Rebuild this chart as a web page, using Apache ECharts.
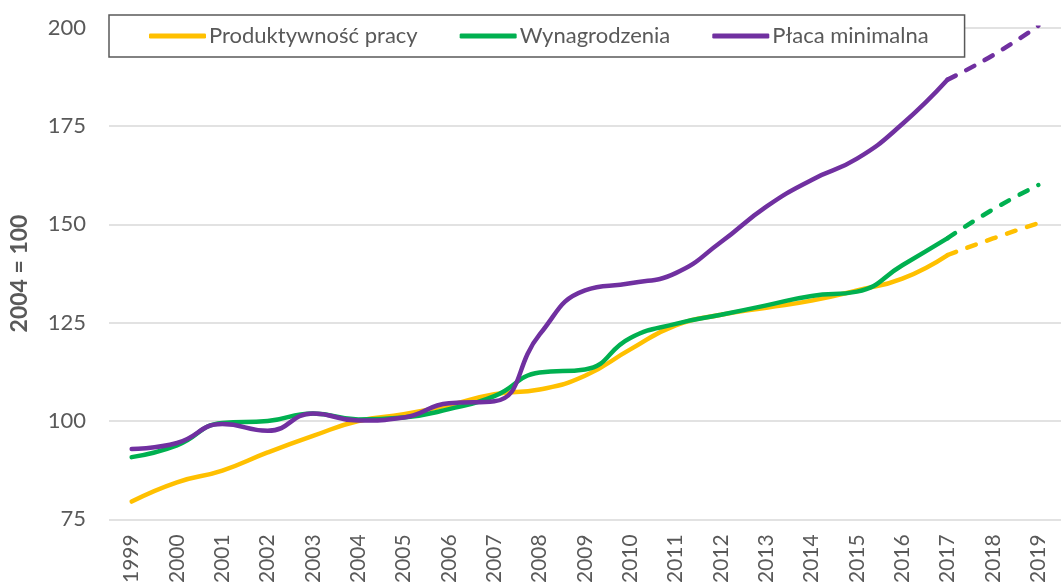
<!DOCTYPE html>
<html>
<head>
<meta charset="utf-8">
<script src="https://cdn.jsdelivr.net/npm/echarts@6/dist/echarts.min.js"></script>
<style>
html,body{margin:0;padding:0;background:#fff;}
#c{width:1061px;height:586px;}
</style>
</head>
<body>
<div id="c"></div>
<script>
const years = ['1999','2000','2001','2002','2003','2004','2005','2006','2007','2008','2009','2010','2011','2012','2013','2014','2015','2016','2017','2018','2019'];
const produktywnosc = [79.5, 84.4, 87.4, 92, 96.2, 100, 101.7, 104, 106.8, 108, 111.5, 118.2, 124.3, 127, 128.8, 130.6, 133.2, 136.2, 142.2, 146.4, 150.3];
const wynagrodzenia = [90.8, 93.8, 99.5, 100, 101.9, 100.4, 100.9, 103, 106.3, 112.3, 113.1, 121.1, 124.7, 127, 129.4, 131.8, 132.9, 139.6, 146.5, 153.8, 160];
const placaMin = [92.9, 94.4, 99.2, 97.5, 101.9, 100.1, 100.9, 104.5, 105, 122, 133.2, 135, 137.6, 145.5, 154.5, 161.3, 166.7, 175.5, 186.8, 193, 200.5];
const yTicks = {min: 75, max: 200, interval: 25};
const forecastFrom = 18; // index of 2017: dashed afterwards

const names = ['Produktywność pracy', 'Wynagrodzenia', 'Płaca minimalna'];
const colors = ['#FFC000', '#00B050', '#7030A0'];
const datasets = [produktywnosc, wynagrodzenia, placaMin];

const font = 'Lato, "Open Sans", sans-serif';
const series = [];
datasets.forEach((d, i) => {
  series.push({
    name: names[i], type: 'line', smooth: 0.5, symbol: 'none',
    data: d.map((v, k) => k <= forecastFrom ? v : null),
    lineStyle: {color: colors[i], width: 4.5, cap: 'round'},
    itemStyle: {color: colors[i]}, z: 2 + i
  });
});
datasets.forEach((d, i) => {
  series.push({
    name: names[i], type: 'line', smooth: 0.5, symbol: 'none',
    data: d.map((v, k) => k >= forecastFrom ? v : null),
    lineStyle: {color: colors[i], width: 4.5, type: [9, 12], cap: 'round'},
    itemStyle: {color: colors[i]}, z: 2 + i
  });
});

const chart = echarts.init(document.getElementById('c'), null, {renderer: 'canvas'});
chart.setOption({
  animation: false,
  backgroundColor: '#fff',
  textStyle: {fontFamily: font},
  grid: {left: 103, top: 27.7, width: 972.6, height: 495, containLabel: false},
  legend: {
    data: names,
    left: 109, top: 15,
    orient: 'horizontal',
    backgroundColor: '#fff',
    borderColor: '#595959', borderWidth: 1.5,
    padding: [10, 36, 10, 40],
    itemGap: 42,
    itemWidth: 57, itemHeight: 5,
    icon: 'roundRect',
    textStyle: {color: '#595959', fontSize: 22, fontFamily: font, padding: [0, 0, 0, -2]}
  },
  xAxis: {
    type: 'category', data: years, boundaryGap: true,
    axisLine: {show: false}, axisTick: {show: false},
    axisLabel: {rotate: 90, color: '#595959', fontSize: 21, fontFamily: font, margin: 15, interval: 0}
  },
  yAxis: {
    type: 'value', min: yTicks.min, max: yTicks.max, interval: yTicks.interval,
    name: '2004 = 100', nameLocation: 'middle', nameGap: 78, nameRotate: 90,
    nameTextStyle: {color: '#595959', fontSize: 23, fontWeight: 'bold', fontFamily: font},
    axisLine: {show: false}, axisTick: {show: false},
    axisLabel: {color: '#595959', fontSize: 22, fontFamily: font, margin: 23},
    splitLine: {lineStyle: {color: '#D9D9D9', width: 1.5}}
  },
  series: series
});
</script>
</body>
</html>
